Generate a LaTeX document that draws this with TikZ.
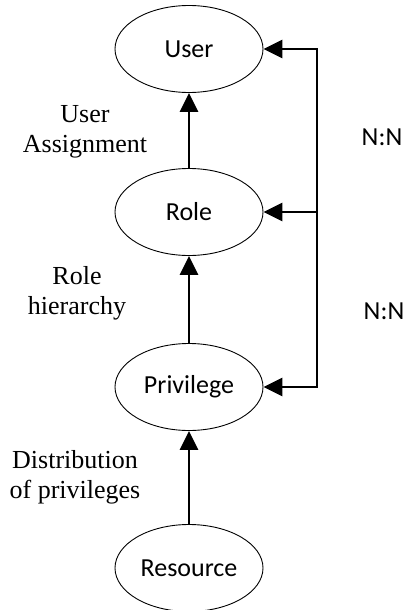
\documentclass[tikz,border=0pt]{standalone}
\usepackage{fontspec}
\setmainfont{Liberation Serif}
\newfontfamily\boxfont{Carlito}
\usepackage{tikz}
\usetikzlibrary{shapes.geometric,arrows.meta}

\begin{document}
\begin{tikzpicture}[x=1pt,y=-1pt,
    entity/.style={draw,ellipse,line width=0.9pt,minimum width=148pt,minimum height=87pt,inner sep=0pt,font=\boxfont\fontsize{26}{30}\selectfont},
    link/.style={line width=2.7pt,-{Triangle[length=19pt,width=18pt]}},
    note/.style={align=center,inner sep=0pt,font=\fontsize{26}{30}\selectfont}]
        \useasboundingbox (0,0) rectangle (409,610);
        \node [entity] (user) at (189,49) {User};
        \node [entity] (role) at (189,212) {Role};
        \node [entity] (priv) at (189,387) {Privilege};
        \node [entity] (res) at (189,568) {Resource};
        \coordinate (bustop) at (317,49);
        \coordinate (busmid) at (317,212);
        \coordinate (busbot) at (317,387);
        \draw [link] (role)--(user);
        \draw [link] (priv)--(role);
        \draw [link] (res)--(priv);
        \draw [link,{Triangle[length=19pt,width=18pt]}-{Triangle[length=19pt,width=18pt]}] (user.east)--(bustop)--(busbot)--(priv.east);
        \draw [link] (busmid)--(role.east);
        \node [note] (ua) at (85,132) {User\\Assignment};
        \node [note] (rh) at (77,293) {Role\\hierarchy};
        \node [note] (dp) at (75,477) {Distribution\\of privileges};
        \node [note,font=\boxfont\fontsize{26}{30}\selectfont] (nn1) at (382,137) {N:N};
        \node [note,font=\boxfont\fontsize{26}{30}\selectfont] (nn2) at (384,311) {N:N};
    \end{tikzpicture}
\end{document}
